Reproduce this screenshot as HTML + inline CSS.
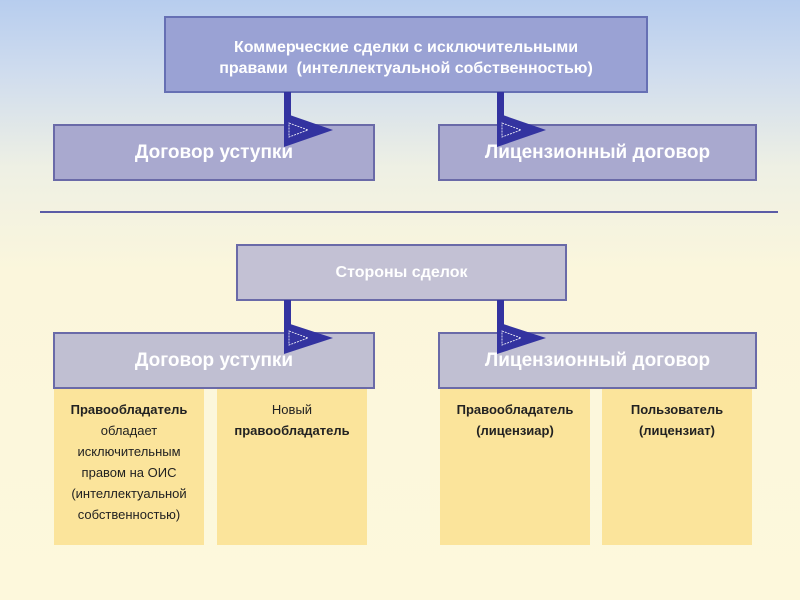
<!DOCTYPE html>
<html><head><meta charset="utf-8"><style>
body{margin:0;width:800px;height:600px;overflow:hidden;font-family:"Liberation Sans",sans-serif;
background:linear-gradient(180deg,#b7cdee 0%,#cfdcee 12%,#eef0e4 28%,#fbf6dc 45%,#fdf8dc 100%);position:relative}
.b{position:absolute;box-sizing:border-box;display:flex;align-items:center;justify-content:center;text-align:center;color:#fff;font-weight:bold}
.y{position:absolute;background:#fbe49b;font-size:13px;color:#222;text-align:center;line-height:21px;padding-top:10px;box-sizing:border-box}
</style></head><body>
<div class="b" style="left:164px;top:16px;width:484px;height:77px;padding-top:7px;background:#9aa2d4;border:2px solid #6670b4;font-size:16px;line-height:21px">Коммерческие сделки с исключительными<br>правами &nbsp;(интеллектуальной собственностью)</div>
<div class="b" style="left:53px;top:124px;width:322px;height:57px;background:#a9a9cf;border:2px solid #6a6aa8;font-size:19px">Договор уступки</div>
<div class="b" style="left:438px;top:124px;width:319px;height:57px;background:#a9a9cf;border:2px solid #6a6aa8;font-size:19px">Лицензионный договор</div>
<div style="position:absolute;left:40px;top:211px;width:738px;height:2px;background:#5b5ca6"></div>
<div class="b" style="left:236px;top:244px;width:331px;height:57px;background:#c3c1d4;border:2px solid #6a6aa8;font-size:16px">Стороны сделок</div>
<div class="b" style="left:53px;top:332px;width:322px;height:57px;background:#c0bfd2;border:2px solid #6a6aa8;font-size:19px">Договор уступки</div>
<div class="b" style="left:438px;top:332px;width:319px;height:57px;background:#c0bfd2;border:2px solid #6a6aa8;font-size:19px">Лицензионный договор</div>
<div class="y" style="left:54px;top:389px;width:150px;height:156px"><b>Правообладатель</b><br>обладает<br>исключительным<br>правом на ОИС<br>(интеллектуальной<br>собственностью)</div>
<div class="y" style="left:217px;top:389px;width:150px;height:156px">Новый<br><b>правообладатель</b></div>
<div class="y" style="left:440px;top:389px;width:150px;height:156px;font-weight:bold">Правообладатель<br>(лицензиар)</div>
<div class="y" style="left:602px;top:389px;width:150px;height:156px;font-weight:bold">Пользователь<br>(лицензиат)</div>
<svg width="800" height="600" style="position:absolute;left:0;top:0">
<g fill="#3333a0">
<rect x="284" y="92" width="7" height="30"/><polygon points="284,113 333,130 284,147"/>
<rect x="497" y="92" width="7" height="30"/><polygon points="497,113 546,130 497,147"/>
<rect x="284" y="300" width="7" height="30"/><polygon points="284,322 333,338 284,354"/>
<rect x="497" y="300" width="7" height="30"/><polygon points="497,322 546,338 497,354"/>
</g>
<g fill="none" stroke="#fff" stroke-width="0.8" stroke-dasharray="2,1">
<polygon points="289,123 308,130 289,137"/><polygon points="502,123 521,130 502,137"/>
<polygon points="289,331 308,338 289,345"/><polygon points="502,331 521,338 502,345"/>
</g>
</svg>
</body></html>
